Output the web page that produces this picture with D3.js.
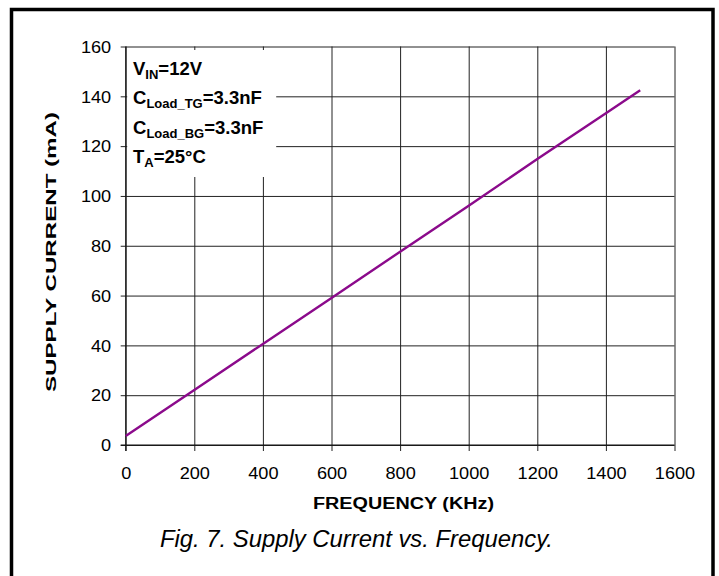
<!DOCTYPE html>
<html><head><meta charset="utf-8">
<script src="https://cdn.jsdelivr.net/npm/d3@7"></script>
<style>body{margin:0;background:#fff}svg{display:block}</style>
</head><body>
<script>
const freq = [0, 200, 400, 600, 800, 1000, 1200, 1400, 1500];
const current = [3.6, 22.1, 40.6, 59.0, 77.6, 96.1, 114.8, 133.2, 142.4];
const xTicks = [0, 200, 400, 600, 800, 1000, 1200, 1400, 1600];
const yTicks = [0, 20, 40, 60, 80, 100, 120, 140, 160];
const xTitle = "FREQUENCY (KHz)";
const yTitle = "SUPPLY CURRENT (mA)";
const caption = "Fig. 7. Supply Current vs. Frequency.";
const legendLines = [["V","IN","=12V"],["C","Load_TG","=3.3nF"],["C","Load_BG","=3.3nF"],["T","A","=25°C"]];

const W = 719, H = 576;
const svg = d3.select("body").append("svg").attr("width", W).attr("height", H)
  .style("font-family", "'Liberation Sans', Arial, sans-serif");

svg.append("rect").attr("x", 11.5).attr("y", 9.5).attr("width", 701.5).attr("height", 640)
  .attr("fill", "none").attr("stroke", "#000").attr("stroke-width", 3.5);

const x = d3.scaleLinear().domain([0, 1600]).range([125.7, 674.5]);
const y = d3.scaleLinear().domain([0, 160]).range([445, 46.5]);
const SX = 1.1;

// grid + axes
const gx = svg.append("g").attr("transform", `translate(0,${y(0)})`)
  .call(d3.axisBottom(x).tickValues(xTicks).tickSize(-(y(0) - y(160))).tickSizeOuter(0).tickFormat(d3.format("d")));
gx.select(".domain").remove();
gx.selectAll("line").attr("stroke", "#222").attr("stroke-width", 1);
gx.selectAll(".tick").append("line").attr("y1", 0).attr("y2", 6).attr("stroke", "#222");
gx.selectAll("text").attr("font-size", 16.5).attr("fill", "#000")
  .attr("y", 0).attr("dy", 0)
  .attr("transform", `translate(0,34) scale(${SX},1)`).attr("text-anchor", "middle");

const gy = svg.append("g").attr("transform", `translate(${x(0)},0)`)
  .call(d3.axisLeft(y).tickValues(yTicks).tickSize(-(x(1600) - x(0))).tickSizeOuter(0));
gy.select(".domain").remove();
gy.selectAll("line").attr("stroke", "#222").attr("stroke-width", 1);
gy.selectAll(".tick").append("line").attr("x1", 0).attr("x2", -5).attr("stroke", "#222");
gy.selectAll("text").attr("font-size", 16.5).attr("fill", "#000")
  .attr("x", 0).attr("dy", "0.35em")
  .attr("transform", `translate(-14.5,0) scale(${SX},1)`).attr("text-anchor", "end");

// axis lines
svg.append("line").attr("x1", x(0)).attr("x2", x(0)).attr("y1", y(160)).attr("y2", y(0) + 6).attr("stroke", "#111");
svg.append("line").attr("x1", x(0) - 5).attr("x2", x(1600)).attr("y1", y(0)).attr("y2", y(0)).attr("stroke", "#111");

// legend box
svg.append("rect").attr("x", x(0) + 1.5).attr("y", y(160) + 3.5).attr("width", 149).attr("height", 127).attr("fill", "#fff");

// data line
svg.append("path").datum(freq.map((f, i) => [f, current[i]]))
  .attr("d", d3.line().x(d => x(d[0])).y(d => y(d[1])))
  .attr("fill", "none").attr("stroke", "#8B0A8B").attr("stroke-width", 2.4);

// legend text
const lg = svg.append("g").attr("font-weight", "bold").attr("fill", "#000");
legendLines.forEach((l, i) => {
  const t = lg.append("text").attr("x", 133).attr("y", 75 + i * 29.3).attr("font-size", 18.5);
  t.append("tspan").text(l[0]);
  t.append("tspan").attr("font-size", 13).attr("dy", 4).text(l[1]);
  t.append("tspan").attr("dy", -4).text(l[2]);
});

// titles
svg.append("text").attr("x", 403.5).attr("y", 509).attr("text-anchor", "middle")
  .attr("font-size", 16).attr("font-weight", "bold").attr("textLength", 181)
  .attr("lengthAdjust", "spacingAndGlyphs").text(xTitle);

svg.append("text").attr("transform", "translate(56,252) rotate(-90)").attr("text-anchor", "middle")
  .attr("font-size", 14.5).attr("font-weight", "bold").attr("textLength", 280)
  .attr("lengthAdjust", "spacingAndGlyphs").text(yTitle);

svg.append("text").attr("x", 356.5).attr("y", 547).attr("text-anchor", "middle")
  .attr("font-size", 23).attr("font-style", "italic").attr("textLength", 393)
  .attr("lengthAdjust", "spacingAndGlyphs").text(caption);
</script>
</body></html>
